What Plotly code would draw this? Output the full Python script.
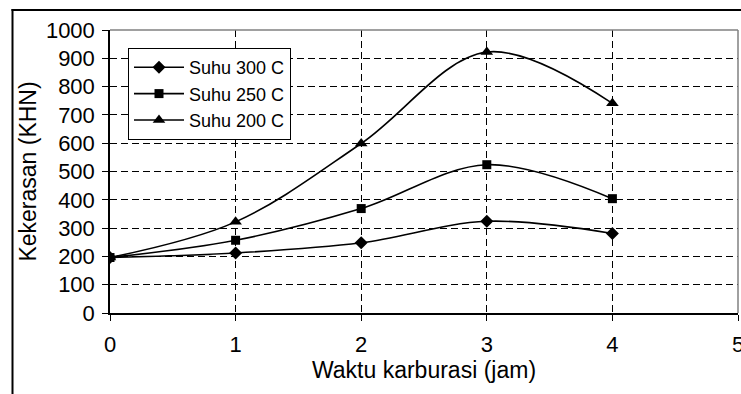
import plotly.graph_objects as go

waktu = [0, 1, 2, 3, 4]
suhu_300 = [196, 212, 248, 324, 281]
suhu_250 = [196, 257, 369, 524, 404]
suhu_200 = [196, 322, 599, 922, 741]
series_names = ["Suhu 300 C", "Suhu 250 C", "Suhu 200 C"]
x_ticks = [0, 1, 2, 3, 4, 5]
y_ticks = [0, 100, 200, 300, 400, 500, 600, 700, 800, 900, 1000]

FONT = "Arial, Liberation Sans, sans-serif"
W, H = 741, 394
L, R, T, B = 110, 3, 30, 81

fig = go.Figure()
symbols = ["diamond", "square", "triangle-up"]
sizes = [10, 9, 11]
for i, (name, ys) in enumerate(zip(series_names, [suhu_300, suhu_250, suhu_200])):
    fig.add_trace(go.Scatter(
        x=waktu, y=ys, name=name, mode="lines+markers",
        line=dict(color="black", width=1.6, shape="spline", smoothing=1),
        marker=dict(symbol=symbols[i], size=sizes[i], color="black"),
        legendgroup=f"g{i}",
    ))

grid = dict(showgrid=True, gridcolor="black", gridwidth=1, griddash="7px,4px")
fig.update_xaxes(range=[0, 5], tickvals=x_ticks, ticks="outside", ticklen=6,
                 tickcolor="black", showline=True, linecolor="black", linewidth=1.5,
                 zeroline=False, tickfont=dict(family=FONT, size=22, color="black"),
                 ticklabelstandoff=5, ticklabeloverflow="allow",
                 title=dict(text="Waktu karburasi (jam)", standoff=2,
                            font=dict(family=FONT, size=23, color="black")),
                 **grid)
fig.update_yaxes(range=[0, 1000], tickvals=y_ticks, ticks="outside", ticklen=6,
                 tickcolor="black", showline=True, linecolor="black", linewidth=1.5,
                 zeroline=False, tickfont=dict(family=FONT, size=22, color="black"),
                 ticklabelstandoff=3, ticklabeloverflow="allow",
                 title=dict(text="Kekerasan (KHN)", standoff=3,
                            font=dict(family=FONT, size=23, color="black")),
                 **grid)

pw = W - L - R
ph = H - T - B
fx = lambda px: (px - L) / pw
fy = lambda py: 1 - (py - T) / ph

fig.update_layout(
    width=W, height=H, margin=dict(l=L, r=R, t=T, b=B, autoexpand=False),
    paper_bgcolor="white", plot_bgcolor="white",
    yaxis2=dict(overlaying="y", range=[0, 1000], tickvals=y_ticks, ticks="inside",
                ticklen=6, tickcolor="black", showticklabels=False, showgrid=False,
                showline=False, zeroline=False, side="left"),
    legend=dict(x=fx(128), y=fy(48), xanchor="left", yanchor="top",
                bgcolor="white", bordercolor="black", borderwidth=1,
                font=dict(family=FONT, size=18, color="black"),
                itemwidth=50, traceorder="grouped", tracegroupgap=0),
    showlegend=True,
    shapes=[
        dict(type="line", xref="paper", yref="paper", x0=0, x1=1, y0=1, y1=1,
             line=dict(color="#808080", width=1.5), layer="above"),
        dict(type="line", xref="paper", yref="paper", x0=1, x1=1, y0=0, y1=1,
             line=dict(color="#808080", width=1.5), layer="above"),
        dict(type="line", xref="paper", yref="paper", x0=fx(12.5), x1=fx(12.5),
             y0=fy(9), y1=fy(420), line=dict(color="black", width=2)),
        dict(type="line", xref="paper", yref="paper", x0=fx(11.5), x1=fx(760),
             y0=fy(10), y1=fy(10), line=dict(color="black", width=2)),
    ],
)

fig.write_html("out.html")
